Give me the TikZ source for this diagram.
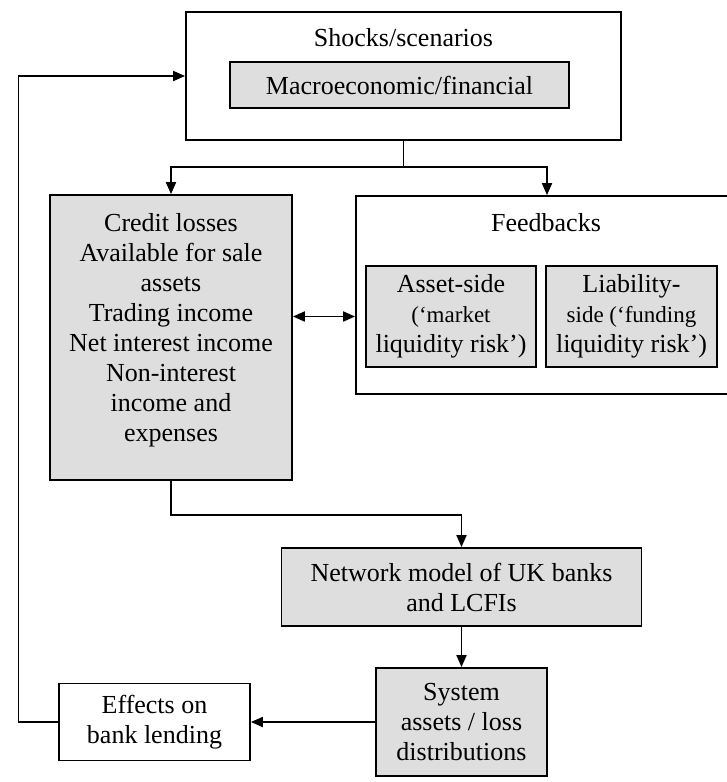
\documentclass[tikz,border=0pt]{standalone}
\usepackage{fontspec}
\setmainfont{Liberation Serif}
\usetikzlibrary{arrows.meta,calc}
\definecolor{boxgray}{RGB}{222,222,222}
\tikzset{
  frame/.style={draw=black, line width=1.8pt, rectangle, inner sep=0pt},
  grayframe/.style={frame, fill=boxgray},
  txt/.style={align=center, inner sep=0pt, font=\fontsize{26}{30}\selectfont},
  conn/.style={line width=1.8pt, -{Triangle[length=12pt,width=10pt]}},
  plain/.style={line width=1.8pt},
  both/.style={line width=1.8pt, {Triangle[length=12pt,width=10pt]}-{Triangle[length=12pt,width=10pt]}}
}
\begin{document}
\begin{tikzpicture}[x=1pt,y=-1pt]
\clip (0,0) rectangle (727,782);
\fill[white] (0,0) rectangle (727,782);
% top box
\node[frame, minimum width=435pt, minimum height=128pt] (shocks) at (403.5,76) {};
\node[txt] (shockstxt) at (403.5,38) {Shocks/scenarios};
\node[grayframe, txt, minimum width=339pt, minimum height=46pt] (macro) at (399.5,85) {Macroeconomic/financial};
% credit box
\node[grayframe, minimum width=242pt, minimum height=285pt] (credit) at (171,337.5) {};
\node[txt] (credittxt) at (171,330) {Credit losses\\Available for sale\\assets\\Trading income\\Net interest income\\Non-interest\\income and\\expenses};
% feedbacks
\node[frame, minimum width=404pt, minimum height=198pt] (feed) at (558,295) {};
\node[txt] (feedtxt) at (546,223) {Feedbacks};
\node[grayframe, txt, minimum width=170pt, minimum height=101pt] (asset) at (451,316.5)
  {Asset-side\\\fontsize{23}{27.5}\selectfont(‘market\\liquidity risk’)};
\node[grayframe, txt, minimum width=171pt, minimum height=101pt] (liab) at (631.5,316.5)
  {Liability-\\\fontsize{23}{27.5}\selectfont side (‘funding\\liquidity risk’)};
% network
\node[grayframe, txt, minimum width=360pt, minimum height=78pt] (network) at (461.5,587)
  {Network model of UK banks\\and LCFIs};
\node[grayframe, txt, minimum width=171pt, minimum height=108pt] (system) at (461.5,722)
  {System\\assets / loss\\distributions};
\node[frame, txt, minimum width=191pt, minimum height=77pt] (effects) at (154.5,722)
  {Effects on\\bank lending};
% connectors
\coordinate (split) at (403.5,167);
\coordinate (feedin) at (547,167);
\coordinate (loopc) at (18.5,76);
\draw[plain] (shocks.south) -- (split);
\draw[conn] (split) -| (credit.north);
\draw[conn] (split) -- (feedin) -- (feedin |- feed.north);
\draw[both] (asset.west -| credit.east) -- (asset.west -| feed.west);
\draw[conn] (credit.south) -- ++(0,34) -| (network.north);
\draw[conn] (network.south) -- (system.north);
\draw[conn] (system.west) -- (effects.east);
\draw[conn] (effects.west) -| (loopc) -- (shocks.west);
\end{tikzpicture}
\end{document}
